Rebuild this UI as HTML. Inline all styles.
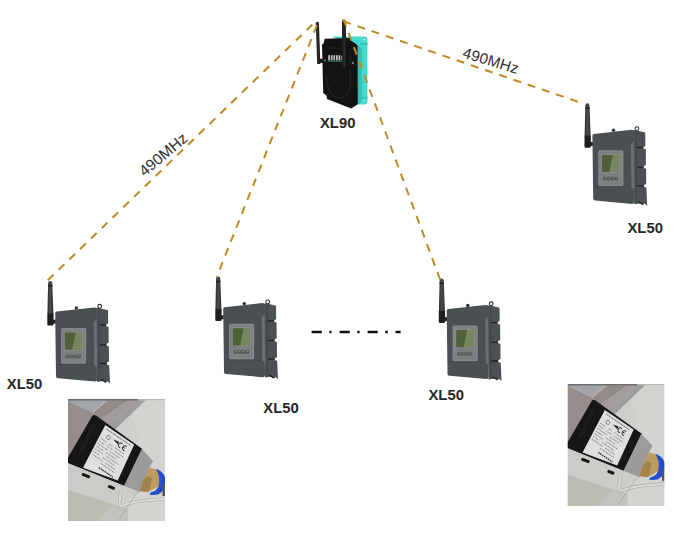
<!DOCTYPE html>
<html><head><meta charset="utf-8">
<style>
html,body{margin:0;padding:0;background:#fff;width:680px;height:534px;overflow:hidden}
svg{display:block;position:absolute;left:0;top:0}
text{font-family:"Liberation Sans",sans-serif}
</style></head>
<body>
<svg width="680" height="534" viewBox="0 0 680 534">
<defs>
  <linearGradient id="ant" x1="0" x2="1" y1="0" y2="0">
    <stop offset="0" stop-color="#2e3030"/><stop offset="0.5" stop-color="#4a4c4d"/><stop offset="1" stop-color="#2a2c2c"/>
  </linearGradient>
  <g id="xl50">
    <!-- antenna -->
    <path d="M48.1,283.2 Q48.2,281 50.2,281 Q52.2,281 52.3,283.2 L53.4,314 L47.4,314 Z" fill="url(#ant)"/>
    <rect x="48.1" y="285.1" width="4.3" height="1.5" fill="#1b1c1c"/>
    <path d="M47.3,313.5 L53.6,313.5 L53.6,324.6 Q53.4,325.4 52.4,325.4 L48.5,325.4 Q47.3,325.4 47.3,324.4 Z" fill="#1d1e1e"/>
    <rect x="52.4" y="319.7" width="3.4" height="3.9" fill="#202222"/>
    <!-- side panel -->
    <path d="M95,307.8 L99,308 L108,310.2 L108.2,323.6 L106.2,324.6 L106.2,326.2 L108.6,327 L108.7,342.6 L106.6,343.8 L106.6,345.6 L108.9,346.5 L109,361.6 L106.8,362.7 L106.8,364.4 L109.2,365.2 L110,383.6 L107.4,381.3 L105.4,382.8 L103.4,380.9 L97,382 Z" fill="#4b5153"/>
    <path d="M99.2,309 L99.2,380" stroke="#3d4244" stroke-width="1" fill="none"/>
    <path d="M100,325.2 L106,325.2 M100,344.8 L106.3,344.8 M100,363.5 L106.5,363.5" stroke="#1f2122" stroke-width="1.3" fill="none"/>
    <path d="M101,379.5 L106,382.2" stroke="#1e1f20" stroke-width="1.4" fill="none"/>
    <!-- knobs -->
    <circle cx="76.3" cy="308" r="1.7" fill="#2f3233"/>
    <circle cx="99.7" cy="306.3" r="1.9" fill="none" stroke="#2f3233" stroke-width="1.1"/>
    <!-- front face -->
    <path d="M56.6,311.6 L94,307.5 Q96,307.4 96.2,309 L97,379.5 Q97,381.7 95,381.6 L58,378.3 Q56,378.1 56,376.3 L55.2,313.2 Q55.3,311.8 56.6,311.6 Z" fill="#4a5052"/>
    <!-- light chamfer stripe -->
    <path d="M93.8,322 L96.6,319 L97.2,367.5 L94.2,365 Z" fill="#6b6f71"/>
    <!-- lower lip line -->
    <path d="M56,364.6 L93.5,364.8" stroke="#43474a" stroke-width="0.8" fill="none"/>
    <!-- bezel -->
    <rect x="61.3" y="328.3" width="24.7" height="35.2" rx="1.3" fill="#7c8080"/>
    <rect x="61.6" y="328.6" width="24.1" height="34.6" rx="1.1" fill="none" stroke="#959999" stroke-width="0.6"/><rect x="64.3" y="332.1" width="18.4" height="18.2" fill="none" stroke="#8d9191" stroke-width="0.6"/>
    <!-- LCD -->
    <path d="M64.8,332.6 L75.8,332.6 L72.3,349.8 L64.8,349.8 Z" fill="#525f3b"/>
    <path d="M75.8,332.6 L82.2,332.6 L82.2,349.8 L72.3,349.8 Z" fill="#788660"/>
    <!-- buttons -->
    <g fill="#5d6264" stroke="#3b4042" stroke-width="0.6">
      <circle cx="67.6" cy="356.3" r="1.5"/><circle cx="71.4" cy="356.3" r="1.5"/>
      <circle cx="75.2" cy="356.3" r="1.5"/><circle cx="79.1" cy="356.3" r="1.5"/>
    </g>
    <g fill="#a5a9a9">
      <circle cx="67.9" cy="355.8" r="0.55"/><circle cx="71.7" cy="355.8" r="0.55"/>
      <circle cx="75.5" cy="355.8" r="0.55"/><circle cx="79.4" cy="355.8" r="0.55"/>
    </g>
  </g>

  <clipPath id="pclip"><rect x="0" y="0" width="97" height="122"/></clipPath>
  <filter id="soft" x="-5%" y="-5%" width="110%" height="110%"><feGaussianBlur stdDeviation="0.45"/></filter>
  <g id="photo" clip-path="url(#pclip)"><g filter="url(#soft)">
    <!-- local coords 97 x 122 -->
    <rect x="0" y="0" width="97" height="122" fill="#cfcfcc"/>
    <!-- right light wall -->
    <path d="M60,0 L97,0 L97,122 L55,122 L75,60 Z" fill="#d3d3d0"/>
    <!-- left warm grey metal -->
    <path d="M0,1.3 L1,1.3 L25,13.75 L27.3,16 L0,60 Z" fill="#958e8a"/>
    <!-- blue-grey wedge -->
    <path d="M1,1.3 L39.2,1.3 L24.8,12.9 Z" fill="#a2a5a9"/>
    <path d="M0.5,2.3 L24.8,13.2" stroke="#a59f9d" stroke-width="1"/>
    <!-- bands -->
    <path d="M24.8,12.9 L39.2,1.3 L61,1.3 L32.5,20.5 L27.3,16 Z" fill="#938b88"/>
    <path d="M24.8,13 L39.2,1.3" stroke="#b8b2b0" stroke-width="1.4"/>
    <path d="M32.5,20.5 L61,1.3 L70,1.3 L40,25.3 Z" fill="#a29c9b"/>
    <path d="M40,25.3 L70,1.3 L77.5,1.3 L47,30.5 Z" fill="#9e9d9e"/>
    <!-- top strip -->
    <rect x="0" y="0" width="70" height="1.6" fill="#6d6c6c"/>
    <rect x="70" y="0" width="27" height="1.2" fill="#b8b8b6"/>
    <!-- bottom greenish ground -->
    <path d="M0,90.7 L45.5,105.3 L52,122 L0,122 Z" fill="#babdb2"/>
    <path d="M30,122 L45.5,105.3 L60,110 L60,122 Z" fill="#c2c3bd"/>
    <!-- light lower block -->
    <path d="M0,63 L56.2,86.8 L72,93.3 L48,105.5 L0,90.7 Z" fill="#cdcbc8"/>
    <!-- slots -->
    <g fill="#161616">
      <rect x="-4.3" y="-1.5" width="8.6" height="3" rx="1" transform="translate(17.9,76.6) rotate(21)"/>
      <rect x="-3.6" y="-1.5" width="7.2" height="3" rx="1" transform="translate(43.4,88.4) rotate(21)"/>
    </g>
    <!-- black frame -->
    <path d="M24.5,16.5 Q26.2,15.4 28,16.5 L74.3,49.9 L56.2,86.8 L0,64 L0,58.5 Z" fill="#121212"/>
    <!-- dark slot inside left of frame -->
    <path d="M24,24 L28,26.5 L14,56 L10,53.5 Z" fill="#1c1c1c"/>
    <!-- white label -->
    <path d="M37.3,26.1 L66.2,45.7 L49.7,81.5 L15,68.7 Z" fill="#dedfe0"/>
    <g transform="matrix(0.828,0.562,-0.464,0.886,37.3,26.1)">
      <g stroke="#777" fill="none" stroke-width="0.95">
        <path d="M3,2.6 H32" stroke-dasharray="1.2 0.6" stroke-width="1.2"/>
        <path d="M2,13.5 H9 M12,13.5 H16 M19,13.5 H30" stroke-dasharray="1 0.7"/>
        <path d="M2,16.5 H8 M11,16.5 H18 M21,16.5 H31" stroke-dasharray="1 0.7"/>
        <path d="M2,19.5 H14 M17,19.5 H28" stroke-dasharray="1 0.7"/>
        <path d="M2,22.5 H10 M14,22.5 H25" stroke-dasharray="1 0.7"/>
        <path d="M2,25.5 H12 M16,25.5 H30" stroke-dasharray="1 0.7"/>
        <path d="M2,28.5 H9 M13,28.5 H27" stroke-dasharray="1 0.7"/>
        <path d="M2,31.5 H15 M18,31.5 H30" stroke-dasharray="1 0.7"/>
        <path d="M14,34.5 H30" stroke-dasharray="1 0.7"/>
      </g>
      <circle cx="8.5" cy="8.5" r="2" fill="none" stroke="#666" stroke-width="0.7"/>
      <path d="M14,7.5 L20,6 L20,9 Z" fill="#222"/>
      <path d="M24,6 A2.4,2.4 0 1 0 24,10.5 M29,6 A2.4,2.4 0 1 0 29,10.5 M26.5,8.3 H28.5" stroke="#222" stroke-width="0.9" fill="none"/>
      <path d="M14,39 H31" stroke="#333" stroke-width="1.4" stroke-dasharray="1.5 0.8"/>
    </g>
    <!-- grey metal right block -->
    <path d="M73.8,49.8 L85,61.9 L81.5,68.5 L75,88 L72,93.3 L56.2,86.8 Z" fill="#9c9b9b"/>
    <!-- brass -->
    <path d="M81.8,68.4 L90.3,71 L91.6,86.8 L79.8,93.3 L72,92 L74.6,82.8 Z" fill="#bc9c60"/>
    <path d="M74.6,82.8 L79,77 L84,79 L82,90 L79.8,93.3 L72,92 Z" fill="#a3834c"/>
    <!-- blue ring -->
    <path d="M88,69.8 Q98,73.5 97.4,83 Q96.8,92.5 90.5,95.3 Q85.5,96.8 81.5,95.5 L83,93.3 Q88.5,92.5 90.8,86.5 Q92.5,78 88,69.8 Z" fill="#2550d2"/>
    <path d="M89,71.2 Q96.2,75 95.7,83 Q95.2,90 91.5,93" stroke="#1a3fb0" stroke-width="0.8" fill="none"/>
    <!-- cable -->
    <path d="M52.5,94 L51.5,104 Q51.5,107.5 55,106.5 Q66,101.5 97,100" stroke="#a8a8a6" stroke-width="3.2" fill="none"/>
    <path d="M52.5,94 L51.5,104 Q51.5,107.5 55,106.5 Q66,101.5 97,100" stroke="#dcdcda" stroke-width="2" fill="none"/>
    <path d="M51,121 L69.3,93.3" stroke="#9a9a95" stroke-width="0.6" fill="none"/>
    <rect x="94.5" y="85" width="2.5" height="12" fill="#555"/>
    </g>
  </g>
</defs>

<!-- photos -->
<use href="#photo" transform="translate(68,399)"/>
<use href="#photo" transform="translate(567.5,383.9)"/>

<!-- dash-dot line -->
<g stroke="#111" stroke-width="2.5" fill="none">
  <path d="M311.6,332 H321.8 M329.3,332 H331.6 M339.6,332 H349.8 M357.3,332 H359.6 M367.6,332 H377.7 M385.3,332 H387.8 M395.5,332 H400.6"/>
</g>

<!-- XL50 devices -->
<use href="#xl50"/>
<use href="#xl50" transform="translate(168,-4.4)"/>
<use href="#xl50" transform="translate(391.5,-2.5)"/>
<use href="#xl50" transform="translate(537.2,-177.7)"/>

<!-- XL90 device -->
<g id="xl90">
  <!-- teal box -->
  <path d="M333,37.5 Q333.5,36.4 335,36.4 L364.5,36.4 Q367.4,36.4 367.4,39.5 L367.4,101.5 Q367.4,104.5 364.5,104.5 L356,104.5 L356,46 Z" fill="#45d8cd"/>
  <path d="M357.6,46 L361.8,48 L361.8,102 L357.6,104.2 Z" fill="#34c0b6"/>
  <path d="M360,43 L367.4,43 L367.4,45 L360,45 Z" fill="#38c3b9"/>
  <path d="M360,97 L367.4,97 L367.4,98.5 L360,98.5 Z" fill="#38c3b9"/>
  <circle cx="364.4" cy="39.6" r="0.9" fill="#f0fffd"/>
  <circle cx="363.6" cy="100.6" r="0.8" fill="#cfeeea"/>
  <path d="M362,78 Q364.5,80 362,84" stroke="#33bdb3" stroke-width="0.6" fill="none"/>
  <!-- black body -->
  <path d="M324.7,38.8 L349.5,38.1 L351,40.5 L357.6,45.2 L357.8,104.2 L351.2,108.4 L327,99 L326.5,95.6 L323.2,93 L322,44.5 L323.5,43.5 Z" fill="#121212"/>
  <path d="M326.5,75 Q327,97 339.7,98.2 Q349,97 350.3,87.6 L350.3,70" stroke="#2e2e2e" stroke-width="0.7" fill="none"/>
  <path d="M327,48 H342.7" stroke="#2c2c2c" stroke-width="0.6"/>
  <path d="M348.5,50 L350.5,50 L350.5,62 L347.5,66" stroke="#2c2c2c" stroke-width="0.6" fill="none"/>
  <!-- switches -->
  <g fill="#c2c2c2">
    <rect x="328.2" y="55.2" width="1.7" height="5.3"/><rect x="330.8" y="55.2" width="1.7" height="5.3"/>
    <rect x="333.4" y="55.2" width="1.7" height="5.3"/><rect x="336" y="55.2" width="1.7" height="5.3"/>
    <rect x="338.6" y="55.2" width="1.7" height="5.3"/><rect x="341.2" y="55.6" width="1.2" height="4.8" fill="#8a8a8a"/>
  </g>
  <rect x="328.2" y="61.2" width="14.5" height="0.7" fill="#2a8a85"/>
  <!-- hinges -->
  <rect x="319.6" y="58.8" width="5.8" height="4.2" rx="0.8" fill="#1c1c1c"/>
  <circle cx="325.1" cy="60.2" r="0.7" fill="#d9c8a0"/>
  <rect x="350.6" y="60.6" width="3.8" height="4.6" rx="0.8" fill="#1c1c1c"/>
  <circle cx="352.9" cy="63" r="0.75" fill="#e6e6e6"/>
  <!-- antennas -->
  <path d="M315.8,23.2 Q317,21 318.9,22.4 L320.4,64 L317.2,64 Z" fill="#1d1d1d"/>
  <path d="M317.3,24 L318.9,63" stroke="#3a3a3a" stroke-width="0.6"/>
  <path d="M341.9,21 Q343.6,19 345.9,20.6 L346.2,68 L342.6,68 Z" fill="#1f1f1f"/>
  <path d="M343.9,22 L344.4,67" stroke="#3c3c3c" stroke-width="0.6"/>
</g>

<!-- dashed lines -->
<g stroke="#bf8a22" stroke-width="2" stroke-dasharray="8 7" fill="none">
  <path d="M47.8,280.3 L315.5,21.5"/>
  <path d="M317.8,23 L216.7,277" stroke-dashoffset="-2.4"/>
  <path d="M343.5,19 L441,282"/>
  <path d="M343.2,21.3 L580,102.5"/>
</g>

<!-- labels -->
<g fill="#262626" font-weight="bold" font-size="14.8">
  <text x="320" y="128.4">XL90</text>
  <text x="6.8" y="389.3">XL50</text>
  <text x="263.3" y="413.4">XL50</text>
  <text x="428.5" y="400.1">XL50</text>
  <text x="627.5" y="233.3">XL50</text>
</g>
<g fill="#303030" font-size="15.2">
  <text x="163" y="154.3" text-anchor="middle" dominant-baseline="central" transform="rotate(-40,163,154.3)" font-size="15.5">490MHz</text>
  <text x="491" y="60.4" text-anchor="middle" dominant-baseline="central" letter-spacing="0.2" transform="rotate(17,491,60.4)">490MHz</text>
</g>
</svg>
</body></html>
